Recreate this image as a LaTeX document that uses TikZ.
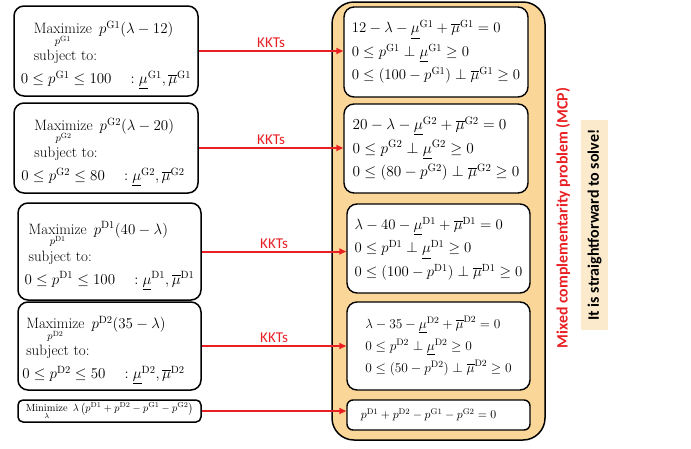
\RequirePackage{fix-cm}
\documentclass[tikz,border=0pt]{standalone}
\usepackage{amsmath,amssymb}
\usepackage{fontspec}
\usetikzlibrary{arrows.meta}
\newfontfamily\calibri{Carlito}
\definecolor{kktred}{RGB}{232,32,36}
\definecolor{mcporange}{RGB}{251,214,153}
\definecolor{notebeige}{RGB}{252,234,204}
\newcommand{\lomu}{\underline{\mu}}
\newcommand{\upmu}{\overline{\mu}}
\newcommand{\agent}[1]{^{\mathrm{#1}}}
\newcommand{\Maxi}[1]{\mathop{\mathrm{Maximize}}\limits_{p\agent{#1}}}
\newcommand{\topline}{\rule{0pt}{21pt}}
\newcommand{\boxfont}[2]{\fontsize{#1}{#2}\selectfont\setlength{\lineskiplimit}{-20pt}}

\begin{document}
\begin{tikzpicture}[x=1pt,y=-1pt,
  optbox/.style={draw,line width=1.5pt,rounded corners=10pt,align=left,inner sep=0pt,
    font=\boxfont{15}{23}},
  kktbox/.style={draw,line width=1.4pt,rounded corners=10pt,fill=white,align=left,inner sep=0pt,
    font=\boxfont{14.8}{23.5}},
  kkt/.style={draw=kktred,line width=2pt,-{Triangle[length=7pt,width=6pt]}},
  kktlabel/.style={text=kktred,font=\calibri\fontsize{15}{17}\selectfont,inner sep=2pt}]
  \useasboundingbox (0,0) rectangle (691,448);

  % single-player problems
  \node[optbox,minimum width=184,minimum height=90] (g1) at (106,51)
    {\hspace*{13pt}\topline$\Maxi{G1}\ p\agent{G1}(\lambda-12)$\\[4pt]
     \hspace*{13pt}subject to:\\
     $0\le p\agent{G1}\le 100\quad:\lomu\agent{G1},\upmu\agent{G1}$};
  \node[optbox,minimum width=184,minimum height=90] (g2) at (106,148)
    {\hspace*{13pt}\topline$\Maxi{G2}\ p\agent{G2}(\lambda-20)$\\[4pt]
     \hspace*{13pt}subject to:\\
     $0\le p\agent{G2}\le 80\quad:\lomu\agent{G2},\upmu\agent{G2}$\hspace*{6pt}};
  \node[optbox,minimum width=183,minimum height=97] (d1) at (109.5,251.5)
    {\hspace*{4pt}\topline$\Maxi{D1}\ p\agent{D1}(40-\lambda)$\\[4pt]
     \hspace*{4pt}subject to:\\
     $0\le p\agent{D1}\le 100\quad:\lomu\agent{D1},\upmu\agent{D1}$};
  \node[optbox,minimum width=183,minimum height=88] (d2) at (109.5,346)
    {\hspace*{4pt}\topline$\Maxi{D2}\ p\agent{D2}(35-\lambda)$\\[4pt]
     \hspace*{4pt}subject to:\\
     $0\le p\agent{D2}\le 50\quad:\lomu\agent{D2},\upmu\agent{D2}$\hspace*{12pt}};
  \node[optbox,rounded corners=5pt,minimum width=183,minimum height=22,font=\fontsize{10.4}{12}\selectfont] (mk) at (109.5,411)
    {$\mathop{\mathrm{Minimize}}\limits_{\lambda}\ \lambda\left(p\agent{D1}+p\agent{D2}-p\agent{G1}-p\agent{G2}\right)$};

  % MCP
  \node[draw,line width=1.5pt,rounded corners=22pt,fill=mcporange,minimum width=213,minimum height=438] (mcp) at (438.5,221) {};
  \node[kktbox,minimum width=184,minimum height=90] (m1) at (436,52)
    {$12-\lambda-\lomu\agent{G1}+\upmu\agent{G1}=0$\\
     $0\le p\agent{G1}\perp\lomu\agent{G1}\ge 0$\\
     $0\le(100-p\agent{G1})\perp\upmu\agent{G1}\ge 0$};
  \node[kktbox,minimum width=184,minimum height=89,font=\boxfont{15.3}{23.5}] (m2) at (436,148.5)
    {$20-\lambda-\lomu\agent{G2}+\upmu\agent{G2}=0$\\
     $0\le p\agent{G2}\perp\lomu\agent{G2}\ge 0$\\
     $0\le(80-p\agent{G2})\perp\upmu\agent{G2}\ge 0$};
  \node[kktbox,minimum width=183,minimum height=89] (m3) at (438.5,248.5)
    {$\lambda-40-\lomu\agent{D1}+\upmu\agent{D1}=0$\\
     $0\le p\agent{D1}\perp\lomu\agent{D1}\ge 0$\\
     $0\le(100-p\agent{D1})\perp\upmu\agent{D1}\ge 0$};
  \node[kktbox,minimum width=183,minimum height=88,font=\boxfont{13.4}{22}] (m4) at (438.5,346)
    {$\lambda-35-\lomu\agent{D2}+\upmu\agent{D2}=0$\\
     $0\le p\agent{D2}\perp\lomu\agent{D2}\ge 0$\\
     $0\le(50-p\agent{D2})\perp\upmu\agent{D2}\ge 0$};
  \node[kktbox,rounded corners=6pt,minimum width=183,minimum height=30,font=\fontsize{11.8}{13}\selectfont] (m5) at (438.5,415)
    {$p\agent{D1}+p\agent{D2}-p\agent{G1}-p\agent{G2}=0$\hspace*{20pt}};

  % KKT arrows
  \draw[kkt] (g1.east) -- (g1.east -| m1.west) node[kktlabel,midway,above] {KKTs};
  \draw[kkt] (g2.east) -- (g2.east -| m2.west) node[kktlabel,midway,above] {KKTs};
  \draw[kkt] (d1.east) -- (d1.east -| m3.west) node[kktlabel,midway,above] {KKTs};
  \draw[kkt] (d2.east) -- (d2.east -| m4.west) node[kktlabel,midway,above] {KKTs};
  \draw[kkt] (mk.east) -- (mk.east -| m5.west);

  % side notes
  \node[rotate=90,text=kktred,font=\calibri\bfseries\fontsize{15.8}{18}\selectfont] (mcplabel) at (563,218)
    {Mixed complementarity problem (MCP)};
  \node[rotate=90,fill=notebeige,minimum width=210,minimum height=27,inner sep=0pt,
    font=\calibri\bfseries\fontsize{16}{18}\selectfont] (note) at (594.5,225)
    {It is straightforward to solve!};
\end{tikzpicture}
\end{document}
